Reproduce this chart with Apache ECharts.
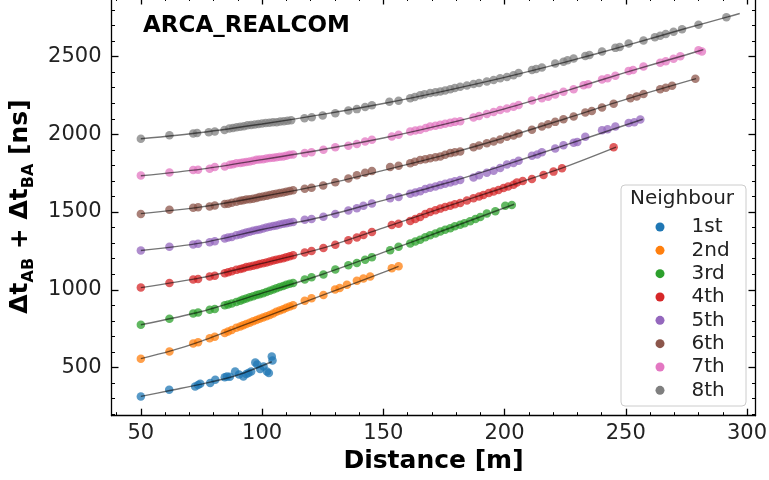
<!DOCTYPE html>
<html>
<head>
<meta charset="utf-8">
<script src="https://cdn.jsdelivr.net/npm/echarts@6/dist/echarts.min.js"></script>
<style>html,body{margin:0;padding:0;background:#fff}#c{width:769px;height:480px}</style>
</head>
<body>
<div id="c"></div>
<script>
const categories = ['1st','2nd','3rd','4th','5th','6th','7th','8th'];
const colors = ['#1f77b4','#ff7f0e','#2ca02c','#d62728','#9467bd','#8c564b','#e377c2','#7f7f7f'];

const xMajor = [50,100,150,200,250,300];
const xMinor = [40,60,70,80,90,110,120,130,140,160,170,180,190,210,220,230,240,260,270,280,290];
const yMajor = [500,1000,1500,2000,2500];
const yMinor = [200,300,400,600,700,800,900,1100,1200,1300,1400,1600,1700,1800,1900,2100,2200,2300,2400,2600,2700,2800];

// 1st neighbour
const x1 = [50,61.7,72.4,73.6,74.5,78.6,80.7,84.6,85.5,86.7,88.9,90.5,92.3,93.5,94.4,95.5,97.2,98,99.2,100.6,102,102.8,104,104.3];
const y1 = [314,357,378,388,395,400,421,438,442,440,474,455,442,458,464,474,532,520,490,507,474,464,571,545];
// 2nd
const x2 = [50,61.8,71.6,73.6,78.4,80.5,84.6,86,87.5,89.4,91,92.2,93.5,94.9,96.3,97.7,99,100.4,101.8,103.2,104.6,105.9,107.3,108.7,110,111.4,112.8,117.6,120.4,125.3,130.1,132,135,139.1,141.8,144.6,153.5,156.3];
const y2 = [557,603,655,662,688,698,722,732,742,756,764,772,780,788,798,806,814,822,830,838,848,858,866,874,884,893,900,930,946,966,1002,1012,1032,1058,1072,1085,1139,1152];
// 3rd
const x3 = [50,61.8,71.6,73.6,78.4,80.5,84.6,86,87.5,89.4,91,92.2,93.5,94.9,96.3,97.7,99,100.4,101.8,103.2,104.6,105.9,107.3,108.7,110,111.4,112.8,117.6,120.4,125.3,130.2,135.6,139.1,142.5,145.3,152.8,156.3,161.1,163.2,165.2,167.3,169.3,171.5,173.5,175.5,177.6,179.5,181.7,183.5,185.8,188,190,192.7,196.2,200.3,203];
const y3 = [775,813,848,854,871,877,900,906,912,922,930,938,944,952,958,966,972,978,986,994,1002,1010,1018,1025,1032,1038,1044,1066,1080,1098,1130,1158,1172,1193,1210,1254,1276,1298,1310,1321,1338,1350,1362,1375,1386,1396,1408,1418,1428,1440,1455,1468,1490,1505,1540,1545];
// 4th
const x4 = [50,61.8,71.6,73.6,78.4,80.5,84.6,86,87.5,89.4,91,92.2,93.5,94.9,96.3,97.7,99,100.4,101.8,103.2,104.6,105.9,107.3,108.7,110,111.4,112.8,117.6,120.4,125.3,130.2,135.6,139.1,141.8,145.3,153.5,156.3,161.1,163.2,165.2,167.3,169.3,171.5,173.5,175.5,177.6,179.5,181.7,184.5,187.2,189.5,191.3,193.5,195.5,197.5,199.6,201.5,203.7,205.1,207.5,211.3,216.1,220.2,223.7,245];
const y4 = [1014,1043,1066,1070,1085,1090,1106,1112,1119,1128,1133,1139,1146,1150,1155,1160,1166,1171,1176,1182,1188,1193,1198,1203,1210,1216,1222,1240,1250,1268,1289,1318,1337,1352,1372,1416,1425,1442,1456,1468,1488,1500,1512,1522,1532,1540,1550,1558,1574,1589,1600,1610,1622,1632,1642,1654,1665,1675,1690,1700,1712,1739,1760,1782,1917];
// 5th
const x5 = [50,61.8,71.6,73.6,78.4,80.5,84.6,86,87.5,89.4,91,92.2,93.5,94.9,96.3,97.7,99,100.4,101.8,103.2,104.6,105.9,107.3,108.7,110,111.4,112.8,117.6,120.4,125.3,130.2,135.6,139.1,141.8,145.3,152.8,156.3,161.1,163.2,165.2,167.3,169.3,171.5,173.5,175.5,177.6,179.5,181.7,187.2,189.5,192.7,195.5,198.2,201,203.7,205.8,211.3,213.5,215.4,220.9,224.3,228.5,230,233.3,240.2,242.5,245.7,251.2,253.5,256];
const y5 = [1253,1276,1292,1296,1306,1312,1330,1336,1340,1350,1356,1362,1368,1374,1380,1384,1388,1394,1400,1405,1410,1413,1420,1424,1428,1432,1436,1450,1456,1470,1488,1510,1525,1540,1555,1589,1596,1618,1626,1634,1648,1656,1664,1674,1682,1690,1698,1706,1722,1736,1752,1766,1784,1806,1816,1830,1862,1870,1885,1908,1930,1945,1950,1984,2026,2032,2050,2072,2078,2096];
// 6th
const x6 = [50,61.8,71.6,73.6,78.4,80.5,84.6,86,87.5,89.4,91,92.2,93.5,94.9,96.3,97.7,99,100.4,101.8,103.2,104.6,105.9,107.3,108.7,110,111.4,112.8,117.6,120.4,125.2,130.2,135.6,139.1,142.5,145.3,152.8,156.3,161.1,163,165.2,167.3,169.3,171.5,173.5,175.5,177.6,179.5,181.7,187.2,189.5,192.7,195.5,198.2,201,203.7,205.8,211.3,215.4,218,220.9,224.3,228.5,233.3,236,240.2,245,251.9,254.5,257.3,264.2,266.5,269.1,278.7];
const y6 = [1488,1514,1527,1531,1535,1542,1551,1554,1559,1566,1572,1576,1580,1583,1586,1590,1596,1600,1604,1610,1614,1617,1622,1626,1630,1636,1640,1650,1656,1670,1692,1716,1736,1752,1764,1790,1797,1814,1824,1834,1840,1846,1852,1858,1868,1879,1884,1890,1917,1928,1943,1954,1966,1984,1992,2005,2029,2050,2064,2080,2097,2114,2140,2150,2172,2196,2232,2244,2260,2290,2300,2312,2357];
// 7th
const x7 = [50,61.8,71.6,73.6,78.4,80.5,84.6,86.7,88,89.4,91,92.2,93.5,94.9,96.3,97.7,99,100.4,101.8,103.2,104.6,105.9,107.3,108.7,110,111.4,112.8,117.6,120.4,125.3,130.2,135.6,139.1,142.5,145.3,153.5,156.3,161.1,163.2,165.2,167.5,169.3,171.5,173.5,175.5,177.6,179.5,181.7,187.2,189.5,192.7,195.5,198.2,201,203.7,205.8,211.3,215.4,218,220.9,224.3,228.5,232.6,234.5,240.2,242.5,245.7,251.2,253,257.3,264.2,266.5,269.7,272.5,280,281.4];
const y7 = [1735,1754,1770,1772,1778,1789,1793,1804,1808,1814,1816,1818,1822,1825,1830,1836,1838,1840,1844,1847,1850,1853,1856,1857,1862,1868,1870,1879,1884,1900,1917,1926,1938,1954,1965,1986,1997,2018,2024,2029,2040,2050,2055,2061,2068,2074,2080,2084,2108,2118,2131,2144,2157,2166,2178,2189,2218,2232,2242,2256,2274,2290,2316,2322,2352,2360,2376,2408,2414,2436,2460,2470,2486,2502,2541,2533];
// 8th
const x8 = [50,61.8,71.6,73.2,78,80.5,84.5,86.5,88,89.5,91,92.5,94,95.5,97,98.5,100,101.5,103,104.5,106,107.5,109,110.5,112,117.5,120.5,125,130.2,135.6,139.1,142.5,145.3,152.5,156.3,161.1,163,165.2,167,169.3,171.5,173.5,175.5,177.6,179.5,181.7,184.5,187.2,189.5,192.7,195.5,198.2,201,203.7,205.8,211.3,213,215.4,220.9,224.3,226,228.5,233.3,235,240.2,245.7,247.5,251.2,257.3,262,264.2,266.5,269.7,273.2,280,291.5];
const y8 = [1971,1994,2005,2008,2013,2018,2027,2038,2040,2045,2048,2052,2058,2060,2063,2066,2070,2072,2075,2078,2078,2082,2084,2087,2090,2104,2110,2121,2136,2153,2162,2176,2187,2209,2216,2232,2240,2252,2258,2265,2270,2276,2282,2290,2298,2306,2314,2324,2330,2340,2350,2360,2368,2380,2395,2414,2420,2430,2455,2466,2476,2488,2504,2510,2532,2556,2562,2584,2603,2624,2634,2645,2660,2676,2704,2753];

// fitted curves
const fitX1 = [50,62,75,90,104];
const fitY1 = [314,352,393,452,537];
const fitX2 = [50,62,75,100,125,150,156.3];
const fitY2 = [557,605,670,818,965,1112,1150];
const fitX3 = [50,75,100,125,150,175,204];
const fitY3 = [775,860,978,1100,1240,1383,1550];
const fitX4 = [50,75,100,125,150,175,200,225,246];
const fitY4 = [1014,1078,1170,1268,1398,1530,1658,1790,1917];
const fitX5 = [50,75,100,125,150,175,200,225,257];
const fitY5 = [1253,1302,1388,1470,1575,1682,1802,1930,2097];
const fitX6 = [50,75,100,125,150,175,200,225,250,279];
const fitY6 = [1490,1533,1600,1675,1768,1866,1978,2100,2225,2358];
const fitX7 = [50,75,100,125,150,175,200,225,250,275,282];
const fitY7 = [1733,1776,1837,1902,1976,2064,2164,2278,2398,2512,2545];
const fitX8 = [50,75,100,125,150,175,200,225,250,275,292,297];
const fitY8 = [1971,2012,2066,2128,2198,2278,2366,2464,2570,2682,2755,2777];

const pointsX = [x1,x2,x3,x4,x5,x6,x7,x8];
const pointsY = [y1,y2,y3,y4,y5,y6,y7,y8];
const fitsX = [fitX1,fitX2,fitX3,fitX4,fitX5,fitX6,fitX7,fitX8];
const fitsY = [fitY1,fitY2,fitY3,fitY4,fitY5,fitY6,fitY7,fitY8];

const FONT = '"DejaVu Sans", sans-serif';
const X_MIN = 37.9, X_MAX = 303.5, Y_MIN = 190, Y_MAX = 2880;

function zip(a, b) { return a.map((v, i) => [v, b[i]]); }

function axis(kind, pos, ticks, len, major) {
  return {
    type: 'value', position: pos,
    min: kind === 'x' ? X_MIN : Y_MIN,
    max: kind === 'x' ? X_MAX : Y_MAX,
    splitLine: { show: false },
    axisLine: { show: major, onZero: false, lineStyle: { color: '#000', width: 1.3 } },
    axisTick: { show: true, inside: true, length: len, customValues: ticks,
                lineStyle: { color: '#000', width: major ? 1.3 : 1 } },
    axisLabel: { show: false },
    silent: true
  };
}

const plain = v => String(Math.round(v));

const xb = axis('x', 'bottom', xMajor, 7, true);
xb.axisLabel = { show: true, customValues: xMajor, formatter: plain, fontSize: 21, color: '#222', margin: 7, fontFamily: FONT };
xb.name = 'Distance [m]';
xb.nameLocation = 'middle';
xb.nameGap = 31;
xb.nameTextStyle = { fontSize: 25, fontWeight: 'bold', color: '#000', fontFamily: FONT };

const yl = axis('y', 'left', yMajor, 7, true);
yl.axisLabel = { show: true, customValues: yMajor, formatter: plain, fontSize: 21, color: '#222', margin: 10, fontFamily: FONT };
yl.name = '{b|Δt}{s|AB}{b| + Δt}{s|BA}{b| [ns]}';
yl.nameLocation = 'middle';
yl.nameRotate = 90;
yl.nameGap = 66;
yl.nameTextStyle = {
  rich: {
    b: { fontSize: 25, fontWeight: 'bold', color: '#000', fontFamily: FONT, lineHeight: 34, verticalAlign: 'middle' },
    s: { fontSize: 16, fontWeight: 'bold', color: '#000', fontFamily: FONT, lineHeight: 16, verticalAlign: 'bottom' }
  }
};

const xAxes = [xb, axis('x','bottom',xMinor,3.5,false), axis('x','top',xMajor,7,true), axis('x','top',xMinor,3.5,false)];
const yAxes = [yl, axis('y','left',yMinor,3.5,false), axis('y','right',yMajor,7,true), axis('y','right',yMinor,3.5,false)];

const series = [];
categories.forEach((name, i) => {
  series.push({
    name: name, type: 'scatter', xAxisIndex: 0, yAxisIndex: 0,
    data: zip(pointsX[i], pointsY[i]),
    symbol: 'circle', symbolSize: 8.5,
    itemStyle: { color: colors[i], opacity: 0.75 },
    emphasis: { disabled: true }, z: 2
  });
});
categories.forEach((name, i) => {
  series.push({
    name: 'fit ' + name, type: 'line', xAxisIndex: 0, yAxisIndex: 0,
    data: zip(fitsX[i], fitsY[i]),
    smooth: 0.3, showSymbol: false, symbol: 'none',
    lineStyle: { color: 'rgba(0,0,0,0.55)', width: 1.4 },
    emphasis: { disabled: true }, z: 3, silent: true
  });
});

const chart = echarts.init(document.getElementById('c'), null, { renderer: 'canvas' });
chart.setOption({
  animation: false,
  backgroundColor: '#fff',
  textStyle: { fontFamily: FONT },
  grid: { left: 111.5, right: 13.5, top: -2.5, bottom: 64.3, containLabel: false, outerBoundsMode: 'none' },
  xAxis: xAxes,
  yAxis: yAxes,
  legend: {
    data: categories, orient: 'vertical', left: 650.5, top: 212,
    itemWidth: 9, itemHeight: 9, itemGap: 3.33, icon: 'circle',
    itemStyle: { opacity: 1 },
    textStyle: { fontSize: 20, color: '#222', fontFamily: FONT, lineHeight: 20, padding: [0, 0, 0, 22] },
    selectedMode: false, z: 6
  },
  graphic: [
    { type: 'rect', z: 5, shape: { x: 621, y: 185, width: 125, height: 221, r: 4 },
      style: { fill: 'rgba(255,255,255,0.85)', stroke: '#cccccc', lineWidth: 1 } },
    { type: 'text', z: 6, left: 630, top: 189,
      style: { text: 'Neighbour', font: '20px "DejaVu Sans"', fill: '#222' } },
    { type: 'text', z: 6, left: 143, top: 15,
      style: { text: 'ARCA_REALCOM', font: 'bold 23px "DejaVu Sans"', fill: '#000' } }
  ],
  series: series
});
</script>
</body>
</html>
